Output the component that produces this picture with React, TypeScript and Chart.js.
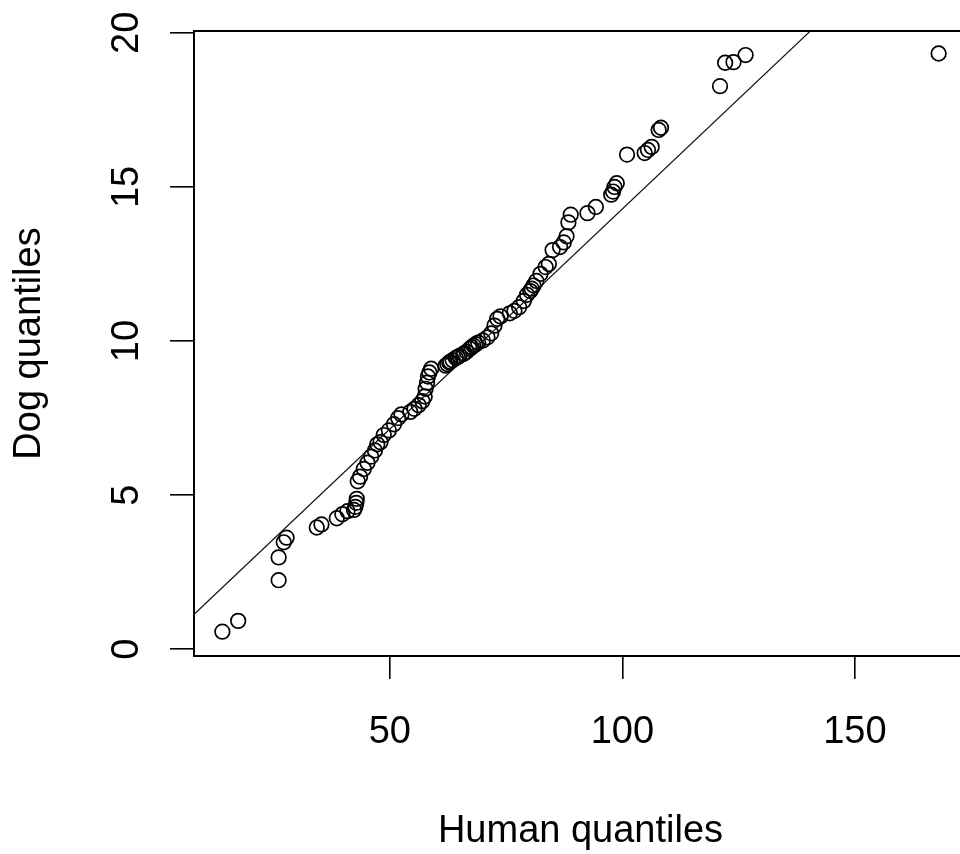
import React, { useEffect, useRef } from "react";
import { Chart, registerables } from "chart.js";

Chart.register(...registerables);

// Sorted sample quantiles (QQ plot)
const humanQ = [
  14.0, 17.4, 26.1, 26.1, 27.2, 27.8, 34.3, 35.3, 38.6, 39.8,
  40.9, 42.3, 42.6, 42.8, 42.9, 43.1, 43.6, 44.4, 45.2, 46.0,
  46.8, 47.3, 48.0, 48.7, 49.8, 50.9, 51.8, 52.5, 54.4, 55.3,
  56.2, 57.0, 57.5, 57.7, 58.0, 58.2, 58.5, 58.9, 62.0, 62.4,
  62.8, 63.0, 63.5, 64.2, 64.6, 65.0, 65.8, 66.0, 66.5, 67.2,
  67.6, 68.0, 68.5, 69.0, 70.0, 71.0, 71.8, 72.5, 73.1, 73.8,
  75.8, 76.8, 77.8, 78.8, 79.5, 80.2, 80.5, 80.9, 81.5, 82.4,
  83.5, 84.2, 85.0, 86.6, 87.4, 88.0, 88.4, 88.9, 92.5, 94.3,
  97.6, 98.0, 98.3, 98.8, 101.0, 104.8, 105.5, 106.3, 107.8, 108.3,
  121.0, 122.1, 123.9, 126.5, 168.0,
];
const dogQ = [
  0.57, 0.92, 2.24, 2.98, 3.47, 3.62, 3.95, 4.05, 4.25, 4.38,
  4.48, 4.52, 4.62, 4.75, 4.88, 5.45, 5.6, 5.85, 6.05, 6.25,
  6.45, 6.65, 6.72, 6.95, 7.1, 7.3, 7.5, 7.62, 7.7, 7.8,
  7.92, 8.05, 8.2, 8.45, 8.65, 8.85, 8.98, 9.1, 9.2, 9.25,
  9.3, 9.33, 9.38, 9.45, 9.48, 9.52, 9.58, 9.6, 9.65, 9.75,
  9.8, 9.85, 9.9, 9.95, 10.02, 10.12, 10.25, 10.5, 10.72, 10.8,
  10.9, 10.98, 11.1, 11.3, 11.5, 11.62, 11.7, 11.8, 11.95, 12.18,
  12.4, 12.5, 12.95, 13.05, 13.2, 13.4, 13.85, 14.1, 14.15, 14.35,
  14.75, 14.85, 15.0, 15.12, 16.05, 16.1, 16.2, 16.3, 16.85, 16.92,
  18.27, 19.03, 19.05, 19.28, 19.33,
];

// Reference line end points
const refLineX = [0, 175];
const refLineY = [0, 25];

const xTicks = [50, 100, 150];
const yTicks = [0, 5, 10, 15, 20];
const xRange = [7.9, 174.1];
const yRange = [-0.22, 20.06];
const xLabel = "Human quantiles";
const yLabel = "Dog quantiles";

const FONT = "'Liberation Sans', Arial, Helvetica, sans-serif";
const FSIZE = 38;

export default function App() {
  const ref = useRef<HTMLCanvasElement>(null);

  useEffect(() => {
    if (!ref.current) return;

    const rPlugin = {
      id: "rStyle",
      afterDatasetsDraw(chart: any) {
        const { ctx, chartArea: a } = chart;
        ctx.save();
        ctx.strokeStyle = "#000";
        ctx.lineWidth = 2;
        ctx.strokeRect(a.left, a.top, a.right - a.left, a.bottom - a.top);
        ctx.restore();
      },
      afterDraw(chart: any) {
        const s = chart.scales.y;
        const a = chart.chartArea;
        const ctx = chart.ctx;
        ctx.save();
        ctx.font = `${FSIZE}px ${FONT}`;
        ctx.fillStyle = "#000";
        ctx.textAlign = "center";
        ctx.textBaseline = "middle";
        s.ticks.forEach((t: any) => {
          const y = s.getPixelForValue(t.value);
          ctx.save();
          ctx.translate(a.left - 66, y);
          ctx.rotate(-Math.PI / 2);
          ctx.fillText(String(t.value), 0, 0);
          ctx.restore();
        });
        ctx.restore();
      },
    };

    const chart = new Chart(ref.current, {
      type: "scatter",
      data: {
        datasets: [
          {
            type: "line",
            data: refLineX.map((x, i) => ({ x, y: refLineY[i] })),
            borderColor: "#111",
            borderWidth: 1.2,
            pointRadius: 0,
            fill: false,
          } as any,
          {
            data: humanQ.map((x, i) => ({ x, y: dogQ[i] })),
            pointStyle: "circle",
            pointRadius: 7.3,
            pointBorderWidth: 1.7,
            borderColor: "#000",
            backgroundColor: "rgba(0,0,0,0)",
          },
        ],
      },
      options: {
        responsive: false,
        animation: false,
        events: [],
        layout: {
          autoPadding: false,
          padding: { top: 31, right: 33, bottom: 0, left: 0 },
        } as any,
        plugins: {
          legend: { display: false },
          tooltip: { enabled: false },
        },
        scales: {
          x: {
            type: "linear",
            position: "bottom",
            min: xRange[0],
            max: xRange[1],
            afterBuildTicks: (s: any) => {
              s.ticks = xTicks.map((v) => ({ value: v }));
            },
            afterFit: (s: any) => {
              s.height = 198;
            },
            grid: {
              display: true,
              drawOnChartArea: false,
              drawTicks: true,
              tickLength: 23,
              color: "#000",
              lineWidth: 1.6,
            },
            border: { display: false },
            ticks: {
              color: "#000",
              font: { family: FONT, size: FSIZE },
              padding: 31,
              maxRotation: 0,
              autoSkip: false,
              callback: (v: any) => String(v),
            },
            title: {
              display: true,
              text: xLabel,
              color: "#000",
              font: { family: FONT, size: FSIZE },
              padding: { top: 0, bottom: 0 },
            },
          },
          y: {
            type: "linear",
            min: yRange[0],
            max: yRange[1],
            afterBuildTicks: (s: any) => {
              s.ticks = yTicks.map((v) => ({ value: v }));
            },
            afterFit: (s: any) => {
              s.width = 194;
            },
            grid: {
              display: true,
              drawOnChartArea: false,
              drawTicks: true,
              tickLength: 24,
              color: "#000",
              lineWidth: 1.6,
            },
            border: { display: false },
            ticks: { display: false },
            title: {
              display: true,
              text: yLabel,
              color: "#000",
              font: { family: FONT, size: FSIZE },
              padding: { top: 7, bottom: 0 },
            },
          },
        },
      },
      plugins: [rPlugin],
    });

    return () => chart.destroy();
  }, []);

  return (
    <div
      style={{
        position: "fixed",
        left: 0,
        top: 0,
        width: 960,
        height: 854,
        overflow: "hidden",
        background: "#fff",
      }}
    >
      <canvas ref={ref} width={1000} height={854} style={{ display: "block" }} />
    </div>
  );
}
